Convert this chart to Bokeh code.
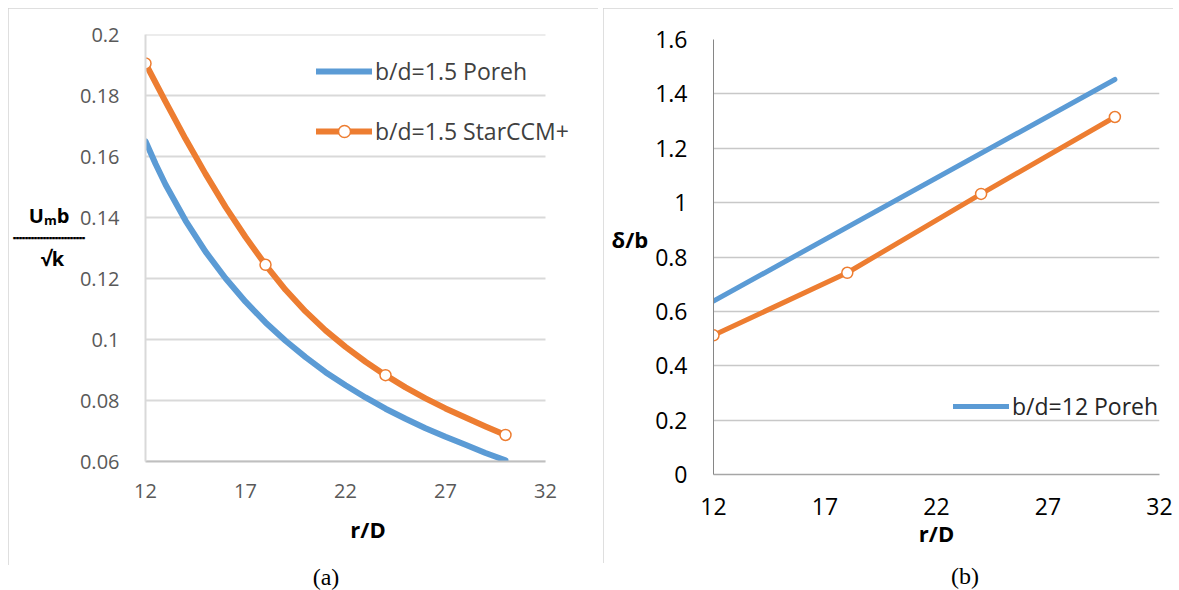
from bokeh.plotting import figure
from bokeh.layouts import row, column
from bokeh.models import (FixedTicker, CustomJSTickFormatter, Legend, LegendItem,
                          Range1d, Div, Spacer)
from bokeh.embed import file_html
from bokeh.resources import INLINE

# ---------------- data ----------------
x_ticks = [12, 17, 22, 27, 32]
y_ticks_a = [0.06, 0.08, 0.1, 0.12, 0.14, 0.16, 0.18, 0.2]
y_ticks_b = [0, 0.2, 0.4, 0.6, 0.8, 1.0, 1.2, 1.4, 1.6]

# panel (a) - Poreh curve
poreh_a_x = [12, 12.5, 13, 14, 15, 16, 17, 18, 19, 20, 21, 22, 23, 24, 25, 26, 27, 28, 29, 30]
poreh_a_y = [0.165, 0.1576, 0.1508, 0.1390, 0.1288, 0.1201, 0.1124, 0.1056, 0.0996, 0.0942,
             0.0893, 0.0850, 0.0810, 0.0773, 0.0740, 0.0709, 0.0681, 0.0655, 0.0628, 0.0604]
# panel (a) - StarCCM+ smoothed curve
star_a_curve_x = [12, 13, 14, 15, 16, 17, 18, 19, 20, 21, 22, 23, 24, 25, 26, 27, 28, 29, 30]
star_a_curve_y = [0.1905, 0.1780, 0.1658, 0.1543, 0.1435, 0.1336, 0.1245, 0.1163, 0.1092, 0.1030,
                  0.0976, 0.0927, 0.0883, 0.0843, 0.0807, 0.0774, 0.0744, 0.0715, 0.0687]
# panel (a) - StarCCM+ markers
star_a_x = [12, 18, 24, 30]
star_a_y = [0.1905, 0.1245, 0.0883, 0.0687]

# panel (b)
poreh_b_x = [12, 30]
poreh_b_y = [0.638, 1.453]
star_b_x = [12, 18, 24, 30]
star_b_y = [0.512, 0.742, 1.032, 1.315]

BLUE = "#5B9BD5"
ORANGE = "#ED7D31"
FONT = "Open Sans"
NB = "\u00a0"

fmt = CustomJSTickFormatter(code="""
var s = tick.toFixed(2);
s = s.replace(/0+$/, '');
return s.replace(/\\.$/, '');
""")

BORDER = {"outline": "2px solid #d4d4d4", "outline-offset": "-2px"}

# ---------------- panel (a) ----------------
pa = figure(width=590, height=557, output_backend="svg", toolbar_location=None,
            x_range=Range1d(12, 34.25), y_range=Range1d(0.06, 0.2),
            min_border_left=137, min_border_right=8, min_border_top=26, min_border_bottom=104)
pa.styles = BORDER
pa.outline_line_color = None
pa.xaxis.ticker = FixedTicker(ticks=x_ticks)
pa.yaxis.ticker = FixedTicker(ticks=y_ticks_a)
pa.xaxis.bounds = (x_ticks[0], x_ticks[-1])
pa.xaxis.formatter = fmt
pa.yaxis.formatter = fmt
for ax in (pa.xaxis, pa.yaxis):
    ax.major_tick_line_color = None
    ax.minor_tick_line_color = None
    ax.major_label_text_font = FONT
    ax.major_label_text_font_size = "20px"
    ax.major_label_text_color = "#595959"
pa.xaxis.axis_line_color = "#bfbfbf"
pa.xaxis.axis_line_width = 2
pa.yaxis.axis_line_color = "#d9d9d9"
pa.yaxis.axis_line_width = 2
pa.xaxis.major_label_standoff = 16
pa.yaxis.major_label_standoff = 20
pa.xaxis.axis_label = "r/D"
pa.xaxis.axis_label_text_font = FONT
pa.xaxis.axis_label_text_font_style = "bold"
pa.xaxis.axis_label_text_font_size = "22px"
pa.xaxis.axis_label_text_color = "#000000"
pa.xaxis.axis_label_standoff = 13
pa.yaxis.axis_label = "Uₘb" + NB * 3 + "\n┈┈┈┈┈┈\n√k" + NB * 4 + "\n"
pa.yaxis.axis_label_orientation = "horizontal"
pa.yaxis.axis_label_text_line_height = 0.8
pa.yaxis.axis_label_text_font = FONT
pa.yaxis.axis_label_text_font_style = "bold"
pa.yaxis.axis_label_text_font_size = "20px"
pa.yaxis.axis_label_text_color = "#000000"
pa.yaxis.axis_label_standoff = -8
pa.xgrid.grid_line_color = None
pa.ygrid.grid_line_color = None

# horizontal gridlines limited to the axis span
pa.segment(x0=[x_ticks[0]] * len(y_ticks_a), x1=[x_ticks[-1]] * len(y_ticks_a),
           y0=y_ticks_a, y1=y_ticks_a, line_color="#d9d9d9", line_width=2, level="underlay")

la1 = pa.line(poreh_a_x, poreh_a_y, line_color=BLUE, line_width=6,
              line_cap="round", line_join="round")
la2 = pa.line(star_a_curve_x, star_a_curve_y, line_color=ORANGE, line_width=6,
              line_cap="round", line_join="round")
sa2 = pa.scatter(star_a_x, star_a_y, marker="circle", size=11, fill_color="white",
                 line_color=ORANGE, line_width=1.5)

lega = Legend(items=[LegendItem(label="b/d=1.5 Poreh", renderers=[la1]),
                     LegendItem(label="b/d=1.5 StarCCM+", renderers=[la2, sa2])],
              location=(171, 314), orientation="vertical",
              padding=0, margin=0, spacing=28, glyph_width=56, glyph_height=30,
              label_height=30, label_standoff=3,
              label_text_font=FONT, label_text_font_size="23px", label_text_color="#404040",
              border_line_alpha=0, background_fill_alpha=0)
pa.add_layout(lega, "center")

da = Div(text='<span style="font-family: \'Liberation Serif\'; font-size: 24px;">(a)</span>',
         width=590, height=25, margin=0,
         styles={"text-align": "center", "padding-left": "46px", "box-sizing": "border-box",
                 "line-height": "25px"})

# ---------------- panel (b) ----------------
pb = figure(width=570, height=555, output_backend="svg", toolbar_location=None,
            x_range=Range1d(12, 32), y_range=Range1d(0, 1.6),
            min_border_left=110, min_border_right=14, min_border_top=31, min_border_bottom=89)
pb.styles = BORDER
pb.outline_line_color = None
pb.xaxis.ticker = FixedTicker(ticks=x_ticks)
pb.yaxis.ticker = FixedTicker(ticks=y_ticks_b)
pb.xaxis.formatter = fmt
pb.yaxis.formatter = fmt
for ax in (pb.xaxis, pb.yaxis):
    ax.major_tick_line_color = None
    ax.minor_tick_line_color = None
    ax.major_label_text_font = FONT
    ax.major_label_text_font_size = "23px"
    ax.major_label_text_color = "#000000"
pb.xaxis.axis_line_color = "#a6a6a6"
pb.xaxis.axis_line_width = 1.5
pb.yaxis.axis_line_color = "#868686"
pb.yaxis.axis_line_width = 1
pb.xaxis.major_label_standoff = 17
pb.yaxis.major_label_standoff = 20
pb.xaxis.axis_label = "r/D"
pb.xaxis.axis_label_text_font = FONT
pb.xaxis.axis_label_text_font_style = "bold"
pb.xaxis.axis_label_text_font_size = "22px"
pb.xaxis.axis_label_text_color = "#000000"
pb.xaxis.axis_label_standoff = 0
pb.yaxis.axis_label = "δ/b\n"
pb.yaxis.axis_label_orientation = "horizontal"
pb.yaxis.axis_label_text_font = FONT
pb.yaxis.axis_label_text_font_style = "bold"
pb.yaxis.axis_label_text_font_size = "22px"
pb.yaxis.axis_label_text_color = "#000000"
pb.yaxis.axis_label_standoff = 4
pb.xgrid.grid_line_color = None
pb.ygrid.grid_line_color = "#c8c8c8"
pb.ygrid.grid_line_width = 1.5

lb1 = pb.line(poreh_b_x, poreh_b_y, line_color=BLUE, line_width=5, line_cap="round")
pb.line(star_b_x, star_b_y, line_color=ORANGE, line_width=5, line_cap="round", line_join="round")
pb.scatter(star_b_x, star_b_y, marker="circle", size=11, fill_color="white",
           line_color=ORANGE, line_width=1.5)

legb = Legend(items=[LegendItem(label="b/d=12 Poreh", renderers=[lb1])],
              location=(240, 52), orientation="vertical",
              padding=0, margin=0, spacing=0, glyph_width=56, glyph_height=30,
              label_height=30, label_standoff=3,
              label_text_font=FONT, label_text_font_size="23px", label_text_color="#262626",
              border_line_alpha=0, background_fill_alpha=0)
pb.add_layout(legb, "center")

db = Div(text='<span style="font-family: \'Liberation Serif\'; font-size: 24px;">(b)</span>',
         width=570, height=27, margin=0,
         styles={"text-align": "center", "padding-left": "154px", "box-sizing": "border-box",
                 "line-height": "27px"})

layout = column(Spacer(height=8),
                row(Spacer(width=8), column(pa, da), Spacer(width=5), column(pb, db)))
open("out.html", "w").write(file_html(layout, INLINE))
